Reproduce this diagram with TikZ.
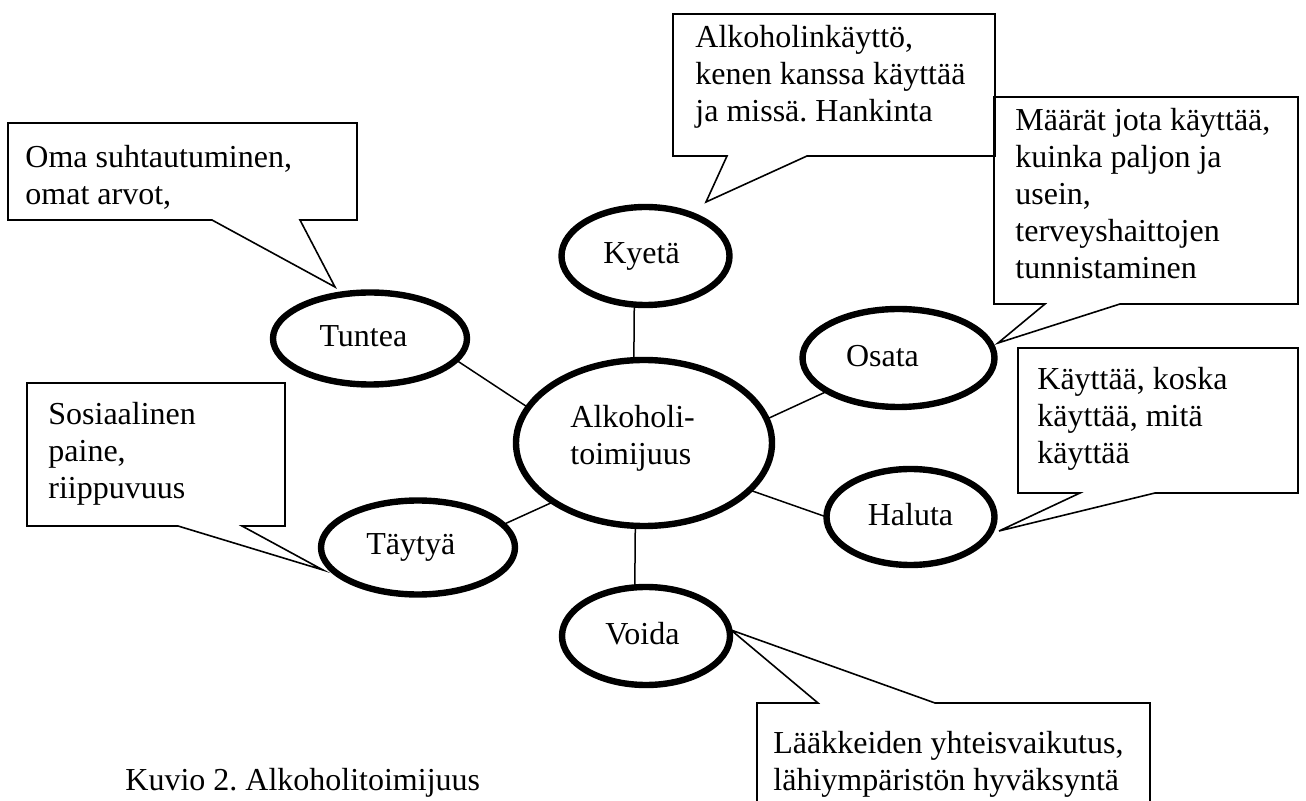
\documentclass[tikz,border=0pt]{standalone}
\usepackage{fontspec}
\setmainfont{Liberation Serif}
\frenchspacing
\usetikzlibrary{shapes.geometric}
\tikzset{
  bubble/.style={ellipse, draw, line width=3.2pt, inner sep=0pt, outer sep=0pt},
  spoke/.style={line width=0.75pt},
  callout/.style={draw, line width=0.8pt, line join=miter},
  word/.style={inner sep=0pt, font=\fontsize{16}{18.5}\selectfont},
  note/.style={anchor=north west, inner sep=0pt, align=left,
    font=\fontsize{16}{18.5}\selectfont}
}

\begin{document}
\begin{tikzpicture}[x=0.5pt,y=-0.5pt]
  \useasboundingbox (0,0) rectangle (1306,801);

  % ellipses
  \node[bubble,minimum width=128pt,minimum height=83pt] (alk) at (644,443) {};
  \node[note] (alktext) at (570,405) {Alkoholi-\\toimijuus};
  \node[bubble,minimum width=84pt,minimum height=49pt,
    label={[word,xshift=-2pt]center:Kyetä}] (kyeta) at (645.5,256) {};
  \node[bubble,minimum width=97pt,minimum height=46pt,
    label={[word,xshift=-3.3pt,yshift=1pt]center:Tuntea}] (tuntea) at (370,338.5) {};
  \node[bubble,minimum width=96pt,minimum height=49pt,
    label={[word,xshift=-8pt,yshift=1pt]center:Osata}] (osata) at (898.5,358) {};
  \node[bubble,minimum width=84pt,minimum height=48pt,
    label={[word,yshift=1pt]center:Haluta}] (haluta) at (910.5,517) {};
  \node[bubble,minimum width=97pt,minimum height=47pt,
    label={[word,xshift=-3.6pt]center:Täytyä}] (taytya) at (418,547.5) {};
  \node[bubble,minimum width=84pt,minimum height=49pt,
    label={[word,xshift=-1.8pt,yshift=1pt]center:Voida}] (voida) at (646,636) {};

  \draw[spoke] (alk.97) -- (kyeta.257);
  \draw[spoke] (alk.-96) -- (voida.103);
  \draw[spoke] (alk.163) -- (tuntea.-14);
  \draw[spoke] (alk.213) -- (taytya.15);
  \draw[spoke] (alk.11) -- (osata.205);
  \draw[spoke] (alk.-24) -- (haluta.180);

  % callouts
  \coordinate (tipTu) at (335,287);
  \coordinate (tipKy) at (706,202);
  \coordinate (tipOs) at (998,343);
  \coordinate (tipHa) at (999,531);
  \coordinate (tipTa) at (323,570);
  \coordinate (tipVo) at (731,630);

  \draw[callout] (212,220) -- (8,220) -- (8,123) -- (357,123) -- (357,220)
    -- (300,220) -- (tipTu) -- cycle;
  \node[note] (ntu) at (25,145) {Oma suhtautuminen,\\omat arvot,};

  \draw[callout] (727,156) -- (673,156) -- (673,14) -- (995,14) -- (995,156)
    -- (807,156) -- (tipKy) -- cycle;
  \node[note] (nky) at (695,25) {Alkoholinkäyttö,\\kenen kanssa käyttää\\ja missä. Hankinta};

  \draw[callout] (1045,304) -- (994,304) -- (994,97) -- (1298,97) -- (1298,304)
    -- (1120,304) -- (tipOs) -- cycle;
  \node[note] (nos) at (1015,108)
    {Määrät jota käyttää,\\kuinka paljon ja\\usein,\\terveyshaittojen\\tunnistaminen};

  \draw[callout] (1080,493) -- (1018,493) -- (1018,348) -- (1298,348) -- (1298,493)
    -- (1155,493) -- (tipHa) -- cycle;
  \node[note] (nha) at (1037,367) {Käyttää, koska\\käyttää, mitä\\käyttää};

  \draw[callout] (178,526) -- (27,526) -- (27,383) -- (285,383) -- (285,526)
    -- (242,526) -- (tipTa) -- cycle;
  \node[note] (nta) at (48,402) {Sosiaalinen\\paine,\\riippuvuus};

  \draw[callout] (757,801) -- (757,703) -- (818,703) -- (tipVo) -- (935,703)
    -- (1150,703) -- (1150,801);
  \node[note] (nvo) at (773,731) {Lääkkeiden yhteisvaikutus,\\lähiympäristön hyväksyntä};

  \node[word,anchor=base west] (caption) at (125,790) {Kuvio 2. Alkoholitoimijuus};
\end{tikzpicture}
\end{document}
